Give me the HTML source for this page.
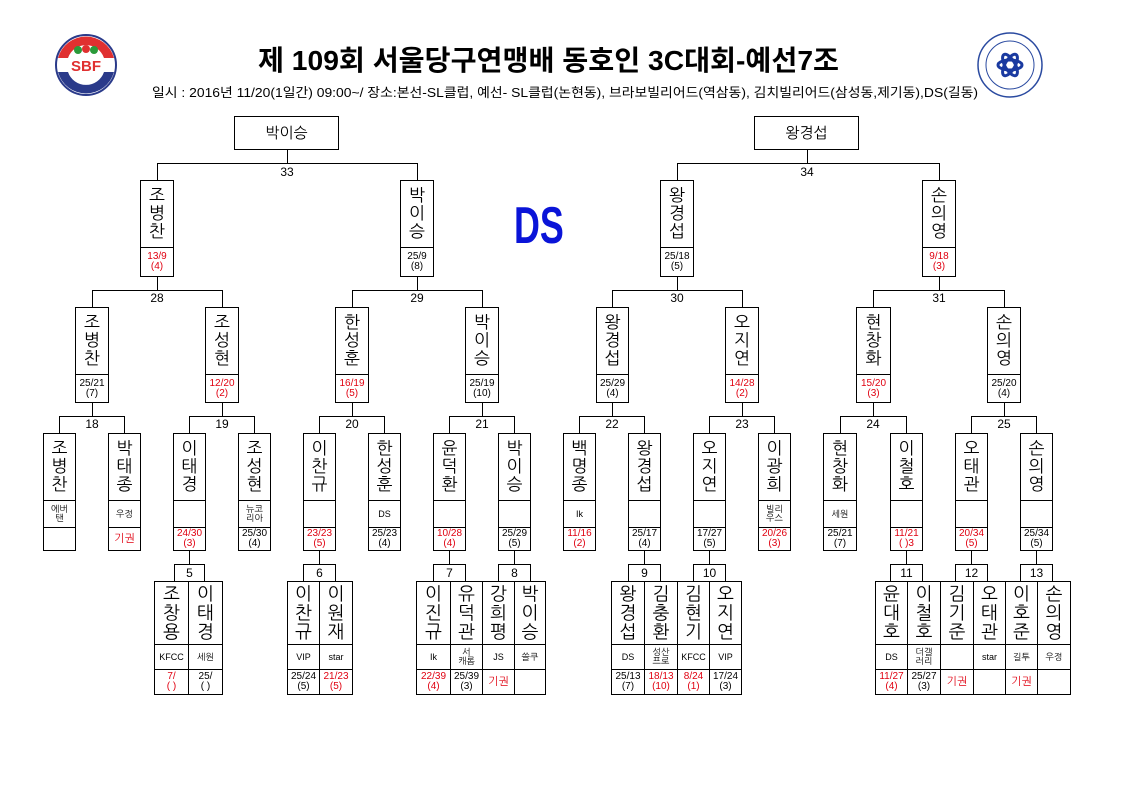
<!DOCTYPE html>
<html><head><meta charset="utf-8">
<style>
body{margin:0;background:#fff}
#p{position:relative;width:1123px;height:794px;overflow:hidden;background:#fff;font-family:"Liberation Sans","NanumGothic","Noto Sans CJK KR",sans-serif;color:#000}
.c{position:absolute;border:1px solid #000;box-sizing:border-box;background:#fff;display:flex;flex-direction:column}
.c>div{box-sizing:border-box;display:flex;align-items:center;justify-content:center;text-align:center;flex:none}
.n{border-bottom:1px solid #000;font-size:17px;line-height:18px;font-family:"NanumGothic","Noto Sans CJK KR",sans-serif}
.k{border-bottom:1px solid #000;font-size:9px;line-height:9px}
.s{font-size:10px;line-height:10px;flex:1 !important}
.r{color:#e00010}
.h{position:absolute;height:1px;background:#000}
.v{position:absolute;width:1px;background:#000}
.lb{position:absolute;font-size:12px;width:30px;text-align:center;line-height:12px}
.t{position:absolute;border:1px solid #000;box-sizing:border-box;background:#fff;display:flex;align-items:center;justify-content:center;font-size:15px;font-family:"NanumGothic","Noto Sans CJK KR",sans-serif}
.L2{top:180px;height:97px}.L2 .n{height:67px}
.L3{top:307px;height:96px}.L3 .n{height:67px}
.L4{top:433px;height:118px}.L4 .n{height:67px}.L4 .k{height:27px}
.G{top:581px;height:114px}.G .n{height:63px;font-size:18px;line-height:19px}.G .k{height:25px}
.sb{position:absolute;top:564px;height:18px;border:1px solid #000;box-sizing:border-box;background:#fff;font-size:12px;text-align:center;line-height:16px}
</style></head><body><div id="p">

<svg style="position:absolute;left:0;top:0" width="1123" height="110">
<circle cx="86" cy="65" r="30" fill="#fff" stroke="#2a3a8a" stroke-width="2"/>
<path d="M58 58 A29 29 0 0 1 114 58 L104 58 A19 19 0 0 0 68 58 Z" fill="#e03030"/>
<path d="M58 72 A29 29 0 0 0 114 72 L104 72 A19 19 0 0 1 68 72 Z" fill="#2a3a8a"/>
<circle cx="78" cy="50" r="4" fill="#2a9a3a"/><circle cx="86" cy="49" r="4" fill="#e03030"/><circle cx="94" cy="50" r="4" fill="#2a9a3a"/>
<text x="86" y="71" font-size="15" font-weight="bold" text-anchor="middle" fill="#e03030" font-family="Liberation Sans">SBF</text>
<circle cx="1010" cy="65" r="32" fill="#fff" stroke="#2a4aa0" stroke-width="1.5"/>
<circle cx="1010" cy="65" r="24" fill="none" stroke="#2a4aa0" stroke-width="1"/>
<ellipse cx="1010" cy="65" rx="12" ry="5" fill="none" stroke="#1a3aa0" stroke-width="3" transform="rotate(60 1010 65)"/>
<ellipse cx="1010" cy="65" rx="12" ry="5" fill="none" stroke="#1a3aa0" stroke-width="3" transform="rotate(-60 1010 65)"/>
<ellipse cx="1010" cy="65" rx="12" ry="5" fill="none" stroke="#1a3aa0" stroke-width="3"/>
<text x="258" y="70" font-size="28" font-weight="bold" textLength="581" lengthAdjust="spacingAndGlyphs" font-family="Liberation Sans, Noto Sans CJK KR, sans-serif">제 109회 서울당구연맹배 동호인 3C대회-예선7조</text>
<text x="152" y="97" font-size="13" textLength="826" lengthAdjust="spacingAndGlyphs" font-family="Liberation Sans, Noto Sans CJK KR, sans-serif">일시 : 2016년 11/20(1일간) 09:00~/ 장소:본선-SL클럽, 예선- SL클럽(논현동), 브라보빌리어드(역삼동), 김치빌리어드(삼성동,제기동),DS(길동)</text>
</svg>

<div style="position:absolute;left:514px;top:200px;width:70px;height:52px;font-size:52px;font-weight:bold;color:#0a14d8;line-height:52px;transform:scaleX(0.69);transform-origin:0 0;font-family:'Liberation Sans',sans-serif">DS</div>

<div class="t" style="left:234px;top:116px;width:105px;height:34px">박이승</div>
<div class="t" style="left:754px;top:116px;width:105px;height:34px">왕경섭</div>

<div class="v" style="left:287px;top:150px;height:13px"></div>
<div class="h" style="left:157px;top:163px;width:261px"></div>
<div class="v" style="left:157px;top:163px;height:17px"></div><div class="v" style="left:417px;top:163px;height:17px"></div>
<div class="lb" style="left:272px;top:166px">33</div>
<div class="v" style="left:807px;top:150px;height:13px"></div>
<div class="h" style="left:677px;top:163px;width:263px"></div>
<div class="v" style="left:677px;top:163px;height:17px"></div><div class="v" style="left:939px;top:163px;height:17px"></div>
<div class="lb" style="left:792px;top:166px">34</div>

<div class="c L2" style="left:140px;width:34px"><div class="n">조<br>병<br>찬</div><div class="s r">13/9<br>(4)</div></div>
<div class="c L2" style="left:400px;width:34px"><div class="n">박<br>이<br>승</div><div class="s">25/9<br>(8)</div></div>
<div class="c L2" style="left:660px;width:34px"><div class="n">왕<br>경<br>섭</div><div class="s">25/18<br>(5)</div></div>
<div class="c L2" style="left:922px;width:34px"><div class="n">손<br>의<br>영</div><div class="s r">9/18<br>(3)</div></div>

<div class="v" style="left:157px;top:277px;height:13px"></div><div class="h" style="left:92px;top:290px;width:131px"></div>
<div class="v" style="left:92px;top:290px;height:17px"></div><div class="v" style="left:222px;top:290px;height:17px"></div>
<div class="lb" style="left:142px;top:292px">28</div>
<div class="v" style="left:417px;top:277px;height:13px"></div><div class="h" style="left:352px;top:290px;width:131px"></div>
<div class="v" style="left:352px;top:290px;height:17px"></div><div class="v" style="left:482px;top:290px;height:17px"></div>
<div class="lb" style="left:402px;top:292px">29</div>
<div class="v" style="left:677px;top:277px;height:13px"></div><div class="h" style="left:612px;top:290px;width:131px"></div>
<div class="v" style="left:612px;top:290px;height:17px"></div><div class="v" style="left:742px;top:290px;height:17px"></div>
<div class="lb" style="left:662px;top:292px">30</div>
<div class="v" style="left:939px;top:277px;height:13px"></div><div class="h" style="left:873px;top:290px;width:132px"></div>
<div class="v" style="left:873px;top:290px;height:17px"></div><div class="v" style="left:1004px;top:290px;height:17px"></div>
<div class="lb" style="left:924px;top:292px">31</div>

<div class="c L3" style="left:75px;width:34px"><div class="n">조<br>병<br>찬</div><div class="s">25/21<br>(7)</div></div>
<div class="c L3" style="left:205px;width:34px"><div class="n">조<br>성<br>현</div><div class="s r">12/20<br>(2)</div></div>
<div class="c L3" style="left:335px;width:34px"><div class="n">한<br>성<br>훈</div><div class="s r">16/19<br>(5)</div></div>
<div class="c L3" style="left:465px;width:34px"><div class="n">박<br>이<br>승</div><div class="s">25/19<br>(10)</div></div>
<div class="c L3" style="left:596px;width:33px"><div class="n">왕<br>경<br>섭</div><div class="s">25/29<br>(4)</div></div>
<div class="c L3" style="left:725px;width:34px"><div class="n">오<br>지<br>연</div><div class="s r">14/28<br>(2)</div></div>
<div class="c L3" style="left:856px;width:35px"><div class="n">현<br>창<br>화</div><div class="s r">15/20<br>(3)</div></div>
<div class="c L3" style="left:987px;width:34px"><div class="n">손<br>의<br>영</div><div class="s">25/20<br>(4)</div></div>

<div class="v" style="left:92px;top:403px;height:13px"></div><div class="h" style="left:59px;top:416px;width:66px"></div>
<div class="v" style="left:59px;top:416px;height:17px"></div><div class="v" style="left:124px;top:416px;height:17px"></div><div class="lb" style="left:77px;top:418px">18</div>
<div class="v" style="left:222px;top:403px;height:13px"></div><div class="h" style="left:189px;top:416px;width:66px"></div>
<div class="v" style="left:189px;top:416px;height:17px"></div><div class="v" style="left:254px;top:416px;height:17px"></div><div class="lb" style="left:207px;top:418px">19</div>
<div class="v" style="left:352px;top:403px;height:13px"></div><div class="h" style="left:319px;top:416px;width:66px"></div>
<div class="v" style="left:319px;top:416px;height:17px"></div><div class="v" style="left:384px;top:416px;height:17px"></div><div class="lb" style="left:337px;top:418px">20</div>
<div class="v" style="left:482px;top:403px;height:13px"></div><div class="h" style="left:449px;top:416px;width:66px"></div>
<div class="v" style="left:449px;top:416px;height:17px"></div><div class="v" style="left:514px;top:416px;height:17px"></div><div class="lb" style="left:467px;top:418px">21</div>
<div class="v" style="left:612px;top:403px;height:13px"></div><div class="h" style="left:579px;top:416px;width:66px"></div>
<div class="v" style="left:579px;top:416px;height:17px"></div><div class="v" style="left:644px;top:416px;height:17px"></div><div class="lb" style="left:597px;top:418px">22</div>
<div class="v" style="left:742px;top:403px;height:13px"></div><div class="h" style="left:709px;top:416px;width:66px"></div>
<div class="v" style="left:709px;top:416px;height:17px"></div><div class="v" style="left:774px;top:416px;height:17px"></div><div class="lb" style="left:727px;top:418px">23</div>
<div class="v" style="left:873px;top:403px;height:13px"></div><div class="h" style="left:840px;top:416px;width:67px"></div>
<div class="v" style="left:840px;top:416px;height:17px"></div><div class="v" style="left:906px;top:416px;height:17px"></div><div class="lb" style="left:858px;top:418px">24</div>
<div class="v" style="left:1004px;top:403px;height:13px"></div><div class="h" style="left:971px;top:416px;width:66px"></div>
<div class="v" style="left:971px;top:416px;height:17px"></div><div class="v" style="left:1036px;top:416px;height:17px"></div><div class="lb" style="left:989px;top:418px">25</div>

<div class="c L4" style="left:43px;width:33px"><div class="n">조<br>병<br>찬</div><div class="k">에버<br>탠</div><div class="s"></div></div>
<div class="c L4" style="left:108px;width:33px"><div class="n">박<br>태<br>종</div><div class="k">우정</div><div class="s r" style="font-size:11px">기권</div></div>
<div class="c L4" style="left:173px;width:33px"><div class="n">이<br>태<br>경</div><div class="k"></div><div class="s r">24/30<br>(3)</div></div>
<div class="c L4" style="left:238px;width:33px"><div class="n">조<br>성<br>현</div><div class="k">뉴코<br>리아</div><div class="s">25/30<br>(4)</div></div>
<div class="c L4" style="left:303px;width:33px"><div class="n">이<br>찬<br>규</div><div class="k"></div><div class="s r">23/23<br>(5)</div></div>
<div class="c L4" style="left:368px;width:33px"><div class="n">한<br>성<br>훈</div><div class="k">DS</div><div class="s">25/23<br>(4)</div></div>
<div class="c L4" style="left:433px;width:33px"><div class="n">윤<br>덕<br>환</div><div class="k"></div><div class="s r">10/28<br>(4)</div></div>
<div class="c L4" style="left:498px;width:33px"><div class="n">박<br>이<br>승</div><div class="k"></div><div class="s">25/29<br>(5)</div></div>
<div class="c L4" style="left:563px;width:33px"><div class="n">백<br>명<br>종</div><div class="k">Ik</div><div class="s r">11/16<br>(2)</div></div>
<div class="c L4" style="left:628px;width:33px"><div class="n">왕<br>경<br>섭</div><div class="k"></div><div class="s">25/17<br>(4)</div></div>
<div class="c L4" style="left:693px;width:33px"><div class="n">오<br>지<br>연</div><div class="k"></div><div class="s">17/27<br>(5)</div></div>
<div class="c L4" style="left:758px;width:33px"><div class="n">이<br>광<br>희</div><div class="k">빌리<br>우스</div><div class="s r">20/26<br>(3)</div></div>
<div class="c L4" style="left:823px;width:34px"><div class="n">현<br>창<br>화</div><div class="k">세원</div><div class="s">25/21<br>(7)</div></div>
<div class="c L4" style="left:890px;width:33px"><div class="n">이<br>철<br>호</div><div class="k"></div><div class="s r">11/21<br>( )3</div></div>
<div class="c L4" style="left:955px;width:33px"><div class="n">오<br>태<br>관</div><div class="k"></div><div class="s r">20/34<br>(5)</div></div>
<div class="c L4" style="left:1020px;width:33px"><div class="n">손<br>의<br>영</div><div class="k"></div><div class="s">25/34<br>(5)</div></div>

<div class="v" style="left:189px;top:551px;height:13px"></div>
<div class="v" style="left:319px;top:551px;height:13px"></div>
<div class="v" style="left:449px;top:551px;height:13px"></div>
<div class="v" style="left:514px;top:551px;height:13px"></div>
<div class="v" style="left:644px;top:551px;height:13px"></div>
<div class="v" style="left:709px;top:551px;height:13px"></div>
<div class="v" style="left:906px;top:551px;height:13px"></div>
<div class="v" style="left:971px;top:551px;height:13px"></div>
<div class="v" style="left:1036px;top:551px;height:13px"></div>

<div class="sb" style="left:174px;width:31px">5</div>
<div class="sb" style="left:303px;width:33px">6</div>
<div class="sb" style="left:433px;width:33px">7</div>
<div class="sb" style="left:498px;width:33px">8</div>
<div class="sb" style="left:628px;width:33px">9</div>
<div class="sb" style="left:693px;width:33px">10</div>
<div class="sb" style="left:890px;width:33px">11</div>
<div class="sb" style="left:955px;width:33px">12</div>
<div class="sb" style="left:1020px;width:33px">13</div>

<div class="c G" style="left:154px;width:35px"><div class="n">조<br>창<br>용</div><div class="k">KFCC</div><div class="s r">7/<br>( )</div></div>
<div class="c G" style="left:188px;width:35px"><div class="n">이<br>태<br>경</div><div class="k">세원</div><div class="s">25/<br>( )</div></div>

<div class="c G" style="left:287px;width:33px"><div class="n">이<br>찬<br>규</div><div class="k">VIP</div><div class="s">25/24<br>(5)</div></div>
<div class="c G" style="left:319px;width:34px"><div class="n">이<br>원<br>재</div><div class="k">star</div><div class="s r">21/23<br>(5)</div></div>

<div class="c G" style="left:416px;width:35px"><div class="n">이<br>진<br>규</div><div class="k">Ik</div><div class="s r">22/39<br>(4)</div></div>
<div class="c G" style="left:450px;width:33px"><div class="n">유<br>덕<br>관</div><div class="k">서<br>캐롬</div><div class="s">25/39<br>(3)</div></div>
<div class="c G" style="left:482px;width:33px"><div class="n">강<br>희<br>평</div><div class="k">JS</div><div class="s r" style="font-size:11px">기권</div></div>
<div class="c G" style="left:514px;width:32px"><div class="n">박<br>이<br>승</div><div class="k">쓸쿠</div><div class="s"></div></div>

<div class="c G" style="left:611px;width:34px"><div class="n">왕<br>경<br>섭</div><div class="k">DS</div><div class="s">25/13<br>(7)</div></div>
<div class="c G" style="left:644px;width:34px"><div class="n">김<br>충<br>환</div><div class="k">성산<br>프로</div><div class="s r">18/13<br>(10)</div></div>
<div class="c G" style="left:677px;width:33px"><div class="n">김<br>현<br>기</div><div class="k">KFCC</div><div class="s r">8/24<br>(1)</div></div>
<div class="c G" style="left:709px;width:33px"><div class="n">오<br>지<br>연</div><div class="k">VIP</div><div class="s">17/24<br>(3)</div></div>

<div class="c G" style="left:875px;width:33px"><div class="n">윤<br>대<br>호</div><div class="k">DS</div><div class="s r">11/27<br>(4)</div></div>
<div class="c G" style="left:907px;width:34px"><div class="n">이<br>철<br>호</div><div class="k">더갤<br>러리</div><div class="s">25/27<br>(3)</div></div>
<div class="c G" style="left:940px;width:34px"><div class="n">김<br>기<br>준</div><div class="k"></div><div class="s r" style="font-size:11px">기권</div></div>
<div class="c G" style="left:973px;width:33px"><div class="n">오<br>태<br>관</div><div class="k">star</div><div class="s"></div></div>
<div class="c G" style="left:1005px;width:33px"><div class="n">이<br>호<br>준</div><div class="k">길투</div><div class="s r" style="font-size:11px">기권</div></div>
<div class="c G" style="left:1037px;width:34px"><div class="n">손<br>의<br>영</div><div class="k">우정</div><div class="s"></div></div>

</div></body></html>
